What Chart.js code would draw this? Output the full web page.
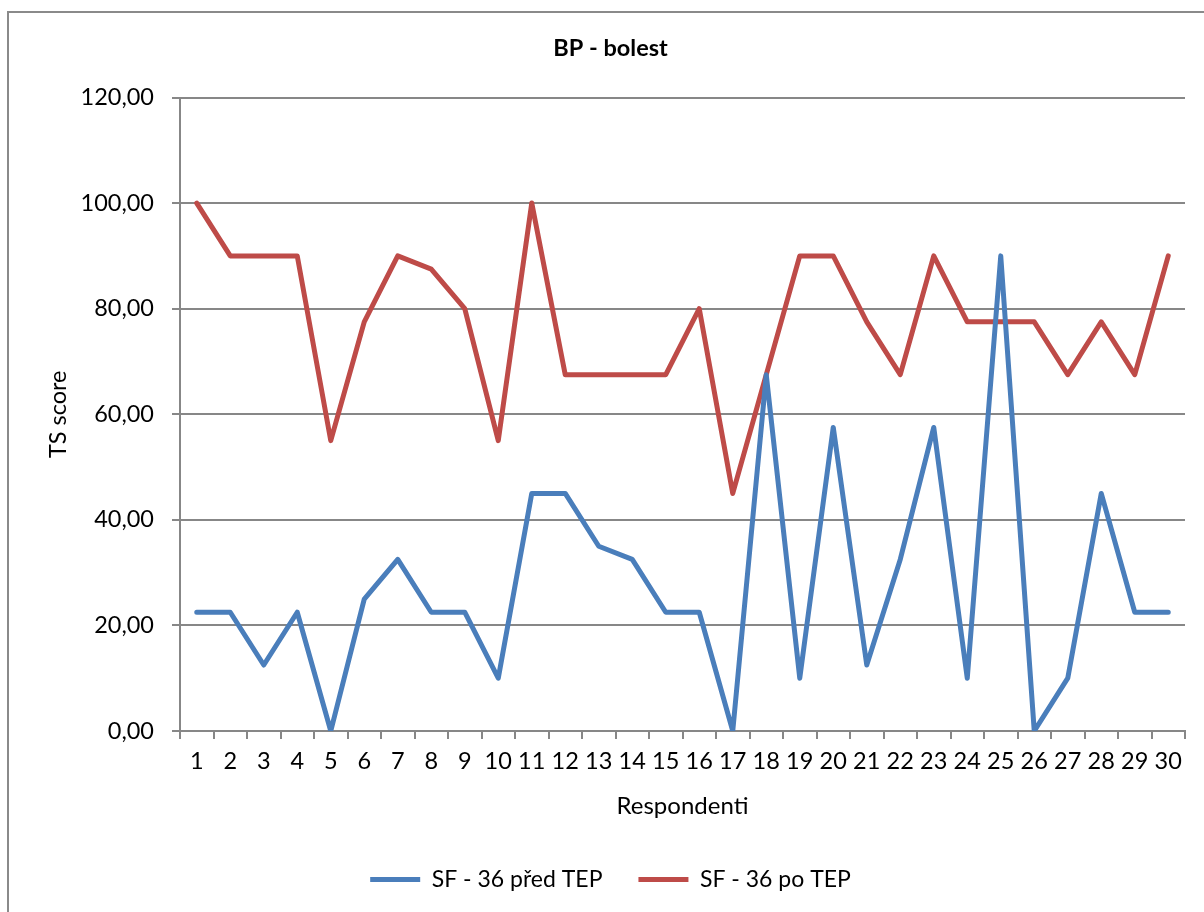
<!DOCTYPE html>
<html>
<head>
<meta charset="utf-8">
<script src="https://cdn.jsdelivr.net/npm/chart.js@4/dist/chart.umd.min.js"></script>
<style>
  html, body { margin: 0; padding: 0; background: #fff; overflow: hidden; }
  #wrap { position: relative; width: 1204px; height: 912px; }
</style>
</head>
<body>
<div id="wrap"><canvas id="chart" width="1204" height="912"></canvas></div>
<script>
// Respondents 1..30
const categories = Array.from({ length: 30 }, (_, i) => String(i + 1));

// SF-36 bodily pain (BP) scores
const beforeTEP = [22.5, 22.5, 12.5, 22.5, 0, 25, 32.5, 22.5, 22.5, 10,
                   45, 45, 35, 32.5, 22.5, 22.5, 0, 67.5, 10, 57.5,
                   12.5, 32.5, 57.5, 10, 90, 0, 10, 45, 22.5, 22.5];
const afterTEP  = [100, 90, 90, 90, 55, 77.5, 90, 87.5, 80, 55,
                   100, 67.5, 67.5, 67.5, 67.5, 80, 45, 67.5, 90, 90,
                   77.5, 67.5, 90, 77.5, 77.5, 77.5, 67.5, 77.5, 67.5, 90];

const seriesNames = ['SF - 36 před TEP', 'SF - 36 po TEP'];
const yTicks = { min: 0, max: 120, step: 20 };

const FONT = 'Lato, "Open Sans", sans-serif';
const GRID = '#878787';

// Gray frame around the whole chart object
const framePlugin = {
  id: 'frame',
  beforeDraw(chart) {
    const ctx = chart.ctx;
    ctx.save();
    ctx.fillStyle = '#fff';
    ctx.fillRect(0, 0, chart.width, chart.height);
    ctx.strokeStyle = '#8a8a8a';
    ctx.lineWidth = 2;
    ctx.beginPath();
    ctx.moveTo(8, chart.height + 2);
    ctx.lineTo(8, 12);
    ctx.lineTo(chart.width + 2, 12);
    ctx.stroke();
    ctx.restore();
  }
};

const fmt = v => v.toFixed(2).replace('.', ',');

new Chart(document.getElementById('chart'), {
  type: 'line',
  data: {
    labels: categories,
    datasets: [
      {
        label: seriesNames[0],
        data: beforeTEP,
        borderColor: '#4a7ebb',
        backgroundColor: '#4a7ebb',
        borderWidth: 5,
        pointRadius: 0,
        tension: 0,
        borderJoinStyle: 'round',
        borderCapStyle: 'round'
      },
      {
        label: seriesNames[1],
        data: afterTEP,
        borderColor: '#be4b48',
        backgroundColor: '#be4b48',
        borderWidth: 5,
        pointRadius: 0,
        tension: 0,
        borderJoinStyle: 'round',
        borderCapStyle: 'round'
      }
    ]
  },
  options: {
    responsive: false,
    animation: false,
    devicePixelRatio: 1,
    layout: { padding: { left: 36, right: 19, top: 0, bottom: 11 } },
    plugins: {
      title: {
        display: true,
        text: 'BP - bolest',
        color: '#000',
        font: { family: FONT, size: 23.5, weight: 'bold', lineHeight: 1.2 },
        padding: { top: 34, bottom: 35.3 }
      },
      legend: {
        position: 'bottom',
        labels: {
          color: '#000',
          font: { family: FONT, size: 23 },
          boxWidth: 50,
          boxHeight: 5,
          padding: 36,
          generateLabels(chart) {
            return chart.data.datasets.map((ds, i) => ({
              text: ds.label,
              fillStyle: ds.borderColor,
              strokeStyle: ds.borderColor,
              lineWidth: 0,
              datasetIndex: i,
              hidden: false
            }));
          }
        }
      },
      tooltip: { enabled: false }
    },
    scales: {
      x: {
        offset: true,
        grid: { display: true, offset: true, drawOnChartArea: false, drawTicks: true, tickLength: 8, color: GRID, lineWidth: 2 },
        border: { display: true, color: GRID, width: 2 },
        ticks: { color: '#000', font: { family: FONT, size: 23.5 }, autoSkip: false, maxRotation: 0, padding: 8 },
        title: {
          display: true,
          text: 'Respondenti',
          color: '#000',
          font: { family: FONT, size: 24, lineHeight: 1.2 },
          padding: { top: 0, bottom: 11 }
        },
        afterFit(s) { s.height = 101; }
      },
      y: {
        min: yTicks.min,
        max: yTicks.max,
        grid: { color: GRID, lineWidth: 2, drawTicks: true, tickLength: 8 },
        border: { display: true, color: GRID, width: 2 },
        ticks: {
          stepSize: yTicks.step,
          color: '#000',
          font: { family: FONT, size: 23.5 },
          padding: 18,
          callback: v => fmt(v)
        },
        title: {
          display: true,
          text: 'TS score',
          color: '#000',
          font: { family: FONT, size: 23.5, lineHeight: 1.2 },
          padding: { top: 8, bottom: 0 }
        },
        afterFit(s) { s.width = 144; }
      }
    }
  },
  plugins: [framePlugin]
});
</script>
</body>
</html>
